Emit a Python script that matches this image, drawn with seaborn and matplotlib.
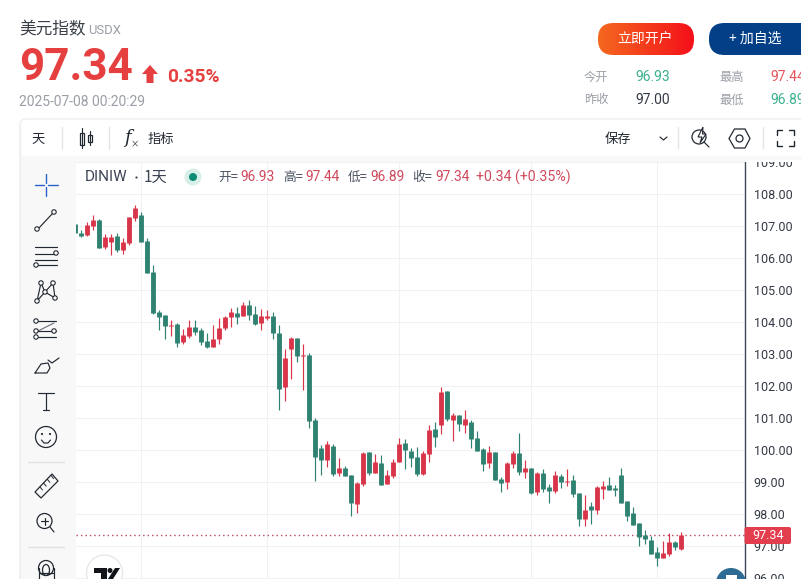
import numpy as np
import pandas as pd
import seaborn as sns
import matplotlib.pyplot as plt
from matplotlib.patches import FancyBboxPatch, Circle, Rectangle, Polygon, Ellipse
from matplotlib.colors import LinearSegmentedColormap

# daily candles
opens = [107.07, 106.79, 106.73, 107.02, 107.20, 106.35, 106.52, 106.70, 106.27, 106.48,
         107.27, 107.35, 106.54, 105.57, 104.32, 104.23, 103.89, 103.95, 103.39, 103.57,
         103.85, 103.76, 103.42, 103.23, 103.48, 103.82, 104.17, 104.29, 104.20, 104.54,
         104.26, 103.98, 104.14, 104.20, 103.67, 101.98, 103.17, 103.51, 102.96, 102.98,
         100.94, 100.07, 99.70, 100.14, 99.29, 99.45, 99.23, 98.32, 98.95, 99.95,
         99.29, 99.61, 98.95, 99.20, 99.64, 100.23, 99.98, 99.79, 99.26, 99.89,
         100.67, 100.79, 101.85, 100.95, 101.10, 100.79, 100.89, 100.39, 100.04, 99.60,
         99.95, 99.10, 99.01, 99.57, 99.92, 99.32, 99.45, 98.70, 99.29, 98.85,
         98.73, 99.20, 99.01, 99.07, 98.67, 97.85, 98.26, 98.14, 98.79, 98.92,
         98.82, 99.23, 98.42, 98.04, 97.73, 97.35, 97.20, 96.82, 96.64, 96.76,
         97.14, 96.93]
highs = [107.07, 106.89, 107.14, 107.35, 107.23, 106.76, 106.76, 106.79, 106.64, 107.29,
         107.67, 107.45, 106.64, 105.79, 104.39, 104.23, 104.07, 103.98, 103.79, 104.07,
         104.07, 103.82, 103.67, 103.92, 104.14, 104.20, 104.45, 104.48, 104.64, 104.70,
         104.51, 104.42, 104.39, 104.32, 103.92, 103.17, 103.54, 103.51, 103.32, 103.04,
         101.00, 100.17, 100.29, 100.20, 99.76, 99.51, 99.23, 99.01, 99.95, 99.95,
         99.89, 99.85, 99.39, 99.73, 100.39, 100.35, 100.07, 100.10, 99.98, 100.79,
         100.89, 101.98, 101.85, 101.17, 101.10, 101.26, 100.95, 100.60, 100.07, 100.14,
         99.95, 99.17, 99.64, 99.98, 100.54, 99.70, 99.45, 99.32, 99.42, 98.95,
         99.35, 99.26, 99.42, 99.23, 98.67, 98.60, 98.39, 98.89, 99.04, 99.17,
         98.92, 99.45, 98.42, 98.23, 97.73, 97.51, 97.32, 96.98, 97.17, 97.42,
         97.17, 97.44]
lows = [106.78, 106.65, 106.71, 106.89, 106.33, 106.29, 106.10, 106.20, 106.14, 106.42,
        107.18, 106.50, 105.55, 104.26, 103.76, 103.48, 103.57, 103.23, 103.32, 103.51,
        103.60, 103.29, 103.20, 103.23, 103.32, 103.76, 103.85, 103.95, 104.20, 104.07,
        103.92, 103.76, 104.07, 103.48, 101.26, 101.54, 102.23, 102.76, 101.88, 100.70,
        99.04, 99.23, 99.48, 99.20, 99.20, 99.20, 97.95, 98.04, 98.89, 99.23,
        99.29, 98.92, 98.95, 99.14, 99.64, 99.42, 99.48, 99.20, 99.23, 99.64,
        100.10, 100.51, 100.92, 100.29, 100.60, 100.54, 100.07, 99.98, 99.35, 99.45,
        99.07, 98.70, 98.79, 99.45, 99.23, 99.14, 98.64, 98.60, 98.70, 98.35,
        98.67, 98.82, 98.89, 98.54, 97.64, 97.64, 97.70, 98.01, 98.48, 98.76,
        98.57, 98.35, 97.79, 97.67, 97.01, 97.07, 96.76, 96.39, 96.64, 96.70,
        96.89, 96.89]
closes = [106.78, 106.71, 107.04, 107.20, 106.33, 106.67, 106.67, 106.26, 106.51, 107.29,
          107.57, 106.52, 105.55, 104.29, 104.17, 103.87, 103.92, 103.35, 103.60, 103.85,
          103.70, 103.39, 103.23, 103.48, 103.82, 104.17, 104.32, 104.17, 104.54, 104.23,
          103.95, 104.20, 104.19, 103.67, 101.92, 102.89, 103.51, 102.95, 102.98, 100.93,
          99.80, 99.70, 100.20, 99.26, 99.45, 99.20, 98.35, 98.98, 99.92, 99.29,
          99.64, 98.92, 99.23, 99.64, 100.20, 100.01, 99.76, 99.26, 99.92, 100.64,
          100.42, 101.82, 100.98, 101.10, 100.82, 100.98, 100.35, 99.98, 99.57, 99.95,
          99.07, 98.98, 99.60, 99.92, 99.32, 99.45, 98.67, 99.29, 98.79, 98.73,
          99.23, 99.01, 99.04, 98.64, 97.85, 98.14, 98.14, 98.85, 98.89, 98.76,
          98.76, 98.35, 97.95, 97.67, 97.29, 97.23, 96.76, 96.64, 96.79, 97.14,
          96.98, 97.34]

last_price = 97.34
price_ticks = [96, 97, 98, 99, 100, 101, 102, 103, 104, 105, 106, 107, 108, 109]
month_bars = [11, 32, 54, 76, 97]

UP = '#d9354a'
DOWN = '#2f8271'
GRID = '#eff1f4'
RED = '#e5403f'
GREY = '#9a9ea6'
DARK = '#333a45'
CJK = ['Noto Sans CJK SC', 'DejaVu Sans']
NUM = ['Roboto', 'DejaVu Sans']

sns.set_theme(style='white')
plt.rcParams['font.family'] = CJK

W, H = 801, 579
fig = plt.figure(figsize=(W / 100, H / 100), dpi=100, facecolor='white')

# candle pane, price scale sits to the right of it
ax = fig.add_axes([76 / W, 0, (744.5 - 76) / W, (H - 160) / H], zorder=2)
df = pd.DataFrame({'bar': range(len(opens)), 'o': opens, 'h': highs, 'l': lows, 'c': closes})
df['dir'] = np.where(df.c >= df.o, 'up', 'down')
pal = {'up': UP, 'down': DOWN}

wicks = df.melt(id_vars=['bar', 'dir'], value_vars=['h', 'l'], value_name='price')
bodies = df.melt(id_vars=['bar', 'dir'], value_vars=['o', 'c'], value_name='price')
sns.lineplot(data=wicks, x='bar', y='price', hue='dir', units='bar', estimator=None, palette=pal,
             linewidth=0.85, legend=False, ax=ax, sort=False, zorder=3, solid_capstyle='butt')
sns.lineplot(data=bodies, x='bar', y='price', hue='dir', units='bar', estimator=None, palette=pal,
             linewidth=3.5, legend=False, ax=ax, sort=False, zorder=4, solid_capstyle='butt')

ax.set_xlim(0.1, 111.55)
ax.set_ylim(107 - (H - 226.3) / 32, 107 + (226.3 - 160) / 32)
ax.set_xticks(month_bars)
ax.set_yticks(price_ticks)
ax.grid(True, color=GRID, linewidth=0.75)
ax.set_axisbelow(True)
ax.set_xlabel('')
ax.set_ylabel('')
ax.tick_params(left=False, bottom=False, labelleft=False, labelbottom=False, right=False,
               labelright=True, pad=0.5, labelsize=9, labelcolor=DARK)
ax.set_yticklabels(['%.2f' % t for t in price_ticks], family=NUM)
for s in ['top', 'left', 'bottom']:
    ax.spines[s].set_visible(False)
ax.spines['right'].set_color('#3c4657')
ax.spines['right'].set_linewidth(1.0)
ax.axhline(last_price, color='#b8485a', linewidth=1, dashes=(1, 2.2), zorder=2)

# page chrome in pixel coordinates
ui = fig.add_axes([0, 0, 1, 1], zorder=3)
ui.set_xlim(0, W)
ui.set_ylim(H, 0)
ui.axis('off')
ui.patch.set_alpha(0)


def label(x, y, s, size=9, color=DARK, ha='left', weight='normal', family=CJK, style='normal'):
    ui.text(x, y, s, fontsize=size, color=color, ha=ha, va='center', fontweight=weight, family=family, style=style)


def line(xs, ys, color='#222831', lw=0.85):
    ui.plot(xs, ys, color=color, lw=lw, solid_capstyle='round')


def dot(x, y, r=2.2, ec='#222831'):
    ui.add_patch(Circle((x, y), r, fc='white', ec=ec, lw=0.8, zorder=5))


ui.add_patch(Rectangle((0, 0), W, 158, fc='white', ec='none'))
ui.add_patch(Rectangle((20, 158), 55.5, H, fc='#f8f8f9', ec='none'))
ui.add_patch(FancyBboxPatch((20, 119), 900, 600, boxstyle='round,pad=0,rounding_size=6', fc='none',
                            ec='#eceef0', lw=1))
ui.add_patch(Rectangle((20.5, 156), W, 6, fc='#f8f8f9', ec='none'))
ui.add_patch(Rectangle((745, 160), 56, 2, fc='white', ec='none'))
ui.plot([19.5, 19.5], [125, H], color='#eceef0', lw=1)

# header
label(19, 30, '美元指数', 12, '#3a3f47')
label(88, 31, 'USDX', 9.4, GREY, family=NUM)
label(19, 68, '97.34', 31.7, RED, weight='bold', family=NUM)
ui.add_patch(Polygon([[150, 65], [158, 74], [153.5, 74], [153.5, 83], [146.5, 83], [146.5, 74], [142, 74]],
                     fc=RED, ec='none'))
label(167, 76.5, '0.35%', 13.8, RED, weight='bold', family=NUM)
label(19, 102, '2025-07-08 00:20:29', 10, GREY, family=NUM)

# buttons
grad = LinearSegmentedColormap.from_list('btn', ['#f4681f', '#f5101a'])
im = ui.imshow(np.linspace(0, 1, 96).reshape(1, -1), extent=(598, 694, 55, 23), cmap=grad, aspect='auto', zorder=3)
clip = FancyBboxPatch((598, 23), 96, 32, boxstyle='round,pad=0,rounding_size=15.5', fc='none', ec='none',
                      transform=ui.transData)
ui.add_patch(clip)
im.set_clip_path(clip)
ui.set_xlim(0, W)
ui.set_ylim(H, 0)
ui.text(645.5, 39, '立即开户', fontsize=10, color='white', ha='center', va='center', zorder=6)
ui.add_patch(FancyBboxPatch((709, 23), 130, 32, boxstyle='round,pad=0,rounding_size=15.5', fc='#023f86', ec='none'))
label(755, 39, '+ 加自选', 10, 'white', ha='center')

# quote table
label(584, 77, '今开', 8.8, GREY)
label(635, 77, '96.93', 10, '#3bb08f', family=NUM)
label(719, 77, '最高', 8.8, GREY)
label(770, 77, '97.44', 10, '#e5535a', family=NUM)
label(584, 100, '昨收', 8.8, GREY)
label(635, 100, '97.00', 10, DARK, family=NUM)
label(719, 100, '最低', 8.8, GREY)
label(770, 100, '96.89', 10, '#3bb08f', family=NUM)

# toolbar
label(31, 139, '天', 9.5, '#222831')
line([61.5, 61.5], [127, 149], '#e3e5e8', 1)
line([108.5, 108.5], [127, 149], '#e3e5e8', 1)
ui.add_patch(Rectangle((79.5, 133), 4.5, 12, fc='white', ec='#222831', lw=0.9))
line([81.75, 81.75], [128, 148])
ui.add_patch(Rectangle((88, 135), 3.5, 7, fc='white', ec='#222831', lw=0.9))
line([89.75, 89.75], [131, 145])
label(124, 138, 'f', 13, '#222831', family=['DejaVu Serif'], style='italic')
label(131, 143.5, '×', 6, '#222831')
label(148, 139, '指标', 9.5, '#222831')
label(605, 139, '保存', 9.5, '#222831')
line([660, 663.5, 667], [137, 140, 137])
line([677.5, 677.5], [127, 148], '#e3e5e8', 1)
ui.add_patch(Circle((699, 137), 7, fc='none', ec='#222831', lw=0.9))
ui.add_patch(Polygon([[703, 127], [698, 137], [702, 137], [700, 143], [706, 134], [702.5, 134]],
                     fc='white', ec='#222831', lw=0.8, zorder=5))
line([704, 709], [142, 147])
ui.add_patch(Polygon([[729, 138.5], [734.5, 129], [745, 129], [750, 138.5], [745, 148], [734.5, 148]],
                     fc='none', ec='#222831', lw=0.9))
ui.add_patch(Circle((739.5, 138.5), 3.5, fc='none', ec='#222831', lw=0.9))
line([762.5, 762.5], [127, 148], '#e3e5e8', 1)
for cx, cy, sx, sy in [(777, 130, 1, 1), (794, 130, -1, 1), (777, 146, 1, -1), (794, 146, -1, -1)]:
    line([cx, cx, cx + 5 * sx], [cy + 5 * sy, cy, cy], '#222831', 1)

# chart legend line
label(85, 177, 'DINIW', 11, '#3c4454', family=NUM)
ui.add_patch(Circle((136.5, 177.5), 1.1, fc='#3c4454', ec='none'))
label(144, 177, '1天', 11, '#3c4454')
ui.add_patch(Circle((193, 177), 8.5, fc='#d8efe9', ec='none'))
ui.add_patch(Circle((193, 177), 4, fc='#0c8c74', ec='none'))
x_ = 218
for name, val in [('开=', '96.93'), ('高=', '97.44'), ('低=', '96.89'), ('收=', '97.34')]:
    label(x_, 177, name, 9.2, '#4a5260')
    label(x_ + 22.5, 177, val, 9.9, '#cf4a5d', family=NUM)
    x_ += 64.8
label(476, 177, '+0.34 (+0.35%)', 10.2, '#cf4a5d', family=NUM)

# last price tag
ui.add_patch(FancyBboxPatch((744.5, 527), 46.5, 17, boxstyle='round,pad=0,rounding_size=2', fc='#e33e4e', ec='none',
                            zorder=6))
ui.text(768, 535.5, '97.34', fontsize=9, color='white', ha='center', va='center', zorder=7, family=NUM)

# left drawing tools
blue = '#2962c8'
line([35, 44], [185, 185], blue, 1)
line([48, 58], [185, 185], blue, 1)
line([46, 46], [174, 183], blue, 1)
line([46, 46], [187, 196], blue, 1)
line([38, 53], [229, 213])
dot(37, 229)
dot(54, 212)
for y_ in [247, 254, 265]:
    line([35, 57], [y_, y_])
line([35, 57], [260, 260])
dot(56, 253)
dot(36, 265)
line([37, 41, 45, 53, 55, 45, 37], [301, 283, 292, 283, 298, 292, 301])
for px_, py_ in [(37, 301), (41, 283), (45, 292), (53, 283), (55, 298)]:
    dot(px_, py_)
for y_ in [321, 331, 337]:
    line([36, 56], [y_, y_])
line([38, 54], [331, 323], '#555b66', 0.7)
for px_, py_ in [(36, 321), (36, 331), (54, 331), (36, 337)]:
    dot(px_, py_)
line([35, 41, 48, 50, 47, 35], [373, 364, 363, 368, 373, 373])
line([48, 52, 59], [360, 363, 358])
line([38, 54], [393, 393])
line([46, 46], [393, 410])
line([43, 49], [410, 410])
ui.add_patch(Circle((46, 437), 10.5, fc='none', ec='#222831', lw=0.9))
dot(42, 434, 0.5)
dot(50, 434, 0.5)
line([41.5, 44, 48, 50.5], [440, 443, 443, 440])
line([28, 64], [461.5, 461.5], '#dfe1e5', 1)
ui.add_patch(Polygon([[35, 492], [52, 474], [58, 481], [41, 498]], fc='none', ec='#222831', lw=0.9))
for k in range(4):
    line([40 + k * 3.7, 42.5 + k * 3.7], [487 - k * 3.8, 490 - k * 3.8], '#222831', 0.7)
ui.add_patch(Circle((44.5, 521), 7.5, fc='none', ec='#222831', lw=0.9))
line([41, 48], [521, 521])
line([44.5, 44.5], [517.5, 524.5])
line([50, 54], [527, 532])
line([28, 64], [546.5, 546.5], '#dfe1e5', 1)
line([38.5, 38.5], [H, 568])
line([53.5, 53.5], [H, 568])
ui.add_patch(Ellipse((46, 568), 15, 15, fc='none', ec='#222831', lw=0.9))
ui.add_patch(Ellipse((46, 570), 7, 11, fc='none', ec='#222831', lw=0.9))
line([38.5, 53.5], [573, 573])

# logo badges at the bottom of the pane
ui.add_patch(Circle((104.5, 573), 18, fc='white', ec='#e6e8eb', lw=1))
ui.add_patch(Polygon([[94, 568], [107, 568], [107, 579], [101, 579], [101, 573], [94, 573]], fc='#111418', ec='none'))
ui.add_patch(Circle((110, 570.5), 2.5, fc='#111418', ec='none'))
ui.add_patch(Polygon([[115, 568], [120, 568], [113, 579], [108, 579]], fc='#111418', ec='none'))
ui.add_patch(Circle((731, 583), 15, fc='#2c6c94', ec='none'))
ui.add_patch(Polygon([[726, 575], [737, 575], [737, 579], [726, 579]], fc='white', ec='none'))

fig.savefig('out.png', dpi=100)
